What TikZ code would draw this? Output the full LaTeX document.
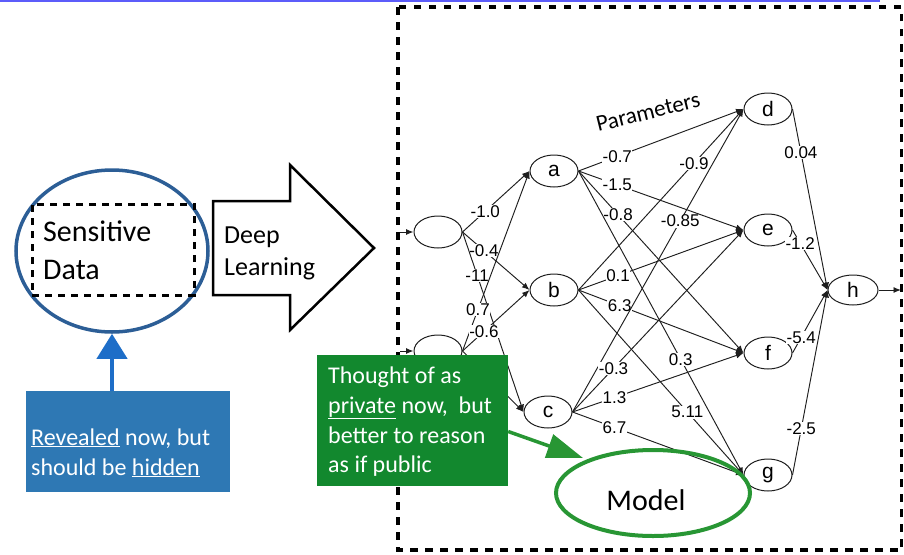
\documentclass[tikz,border=0pt]{standalone}
\usepackage{fontspec}
\setmainfont{Carlito}
\newfontfamily\netfont{Liberation Sans}
\usetikzlibrary{shapes.geometric,arrows.meta}

\definecolor{topline}{RGB}{92,92,250}
\definecolor{ringblue}{RGB}{44,94,150}
\definecolor{arrowblue}{RGB}{30,110,200}
\definecolor{boxblue}{RGB}{46,120,180}
\definecolor{boxgreen}{RGB}{18,136,46}
\definecolor{pengreen}{RGB}{40,150,52}
\definecolor{wire}{RGB}{30,30,30}

\newcommand{\fsz}[1]{\fontsize{#1}{#1}\selectfont}

\begin{document}
\begin{tikzpicture}[x=1pt,y=-1pt,
  neuron/.style={ellipse, draw=wire, line width=1pt, minimum width=48pt,
    minimum height=32pt, inner sep=0pt, font=\netfont\fsz{21}},
  edge/.style={draw=wire, line width=0.95pt, -{Latex[length=7.5pt,width=6pt]}},
  wt/.style={fill=white, inner sep=0.5pt, font=\netfont\fsz{17}},
  txt/.style={anchor=base west, inner sep=0pt},
  framedash/.style={line width=3.5pt, dash pattern=on 7.5pt off 7.5pt},
]
\useasboundingbox (0,0) rectangle (904,554);

% thin rule along the top edge
\draw[topline, line width=1.5pt] (0,0.75) -- (880,0.75);

% ---------------- network ----------------
\node[neuron] (i1) at (438,232) {};
\node[neuron] (i2) at (438,351) {};
\node[neuron] (a) at (554,171) {a};
\node[neuron] (b) at (554,290) {b};
\node[neuron] (c) at (548,412) {c};
\node[neuron] (d) at (768,109) {d};
\node[neuron] (e) at (768,230) {e};
\node[neuron] (f) at (768,353) {f};
\node[neuron] (g) at (768,475) {g};
\node[neuron, minimum width=50pt, minimum height=30pt] (h) at (853,290) {h};

\coordinate (x1) at (400,232);
\coordinate (x2) at (400,351);
\coordinate (y) at (901,290);

\draw[edge] (x1) -- (i1.west);
\draw[edge] (x2) -- (i2.west);

% input layer -> first hidden layer
\draw[edge] (i1.east) -- node[wt,pos=.34]{-1.0} (a.west);
\draw[edge] (i1.east) -- node[wt,pos=.32]{-0.4} (b.west);
\draw[edge] (i1.east) -- node[wt,pos=.24]{-11} (c.west);
\draw[edge] (i2.east) -- node[wt,pos=.23]{0.7} (a.west);
\draw[edge] (i2.east) -- node[wt,pos=.32]{-0.6} (b.west);
\draw[edge] (i2.east) -- (c.west);

% first hidden layer -> second hidden layer
\draw[edge] (a.east) -- node[wt,pos=.235]{-0.7} (d.west);
\draw[edge] (a.east) -- node[wt,pos=.235]{-1.5} (e.west);
\draw[edge] (a.east) -- node[wt,pos=.24]{-0.8} (f.west);
\draw[edge] (a.east) -- node[wt,pos=.62]{0.3} (g.west);
\draw[edge] (b.east) -- node[wt,pos=.70]{-0.9} (d.west);
\draw[edge] (b.east) -- node[wt,pos=.24]{0.1} (e.west);
\draw[edge] (b.east) -- node[wt,pos=.25]{6.3} (f.west);
\draw[edge] (b.east) -- node[wt,pos=.66]{5.11} (g.west);
\draw[edge] (c.east) -- node[wt,pos=.63]{-0.85} (d.west);
\draw[edge] (c.east) -- node[wt,pos=.24]{-0.3} (e.west);
\draw[edge] (c.east) -- node[wt,pos=.245]{1.3} (f.west);
\draw[edge] (c.east) -- node[wt,pos=.245]{6.7} (g.west);

% second hidden layer -> output
\draw[edge] (d.east) -- node[wt,pos=.24]{0.04} (h.west);
\draw[edge] (e.east) -- node[wt,pos=.22]{-1.2} (h.west);
\draw[edge] (f.east) -- node[wt,pos=.25]{-5.4} (h.west);
\draw[edge] (g.east) -- node[wt,pos=.25]{-2.5} (h.west);
\draw[edge] (h.east) -- (y);

\node[rotate=14, font=\fsz{23}, inner sep=0pt] (params) at (648,112) {Parameters};

% dashed frame around the model
\draw[framedash] (398,7) rectangle (901.5,550);

% ---------------- sensitive data ----------------
\node[ellipse, draw=ringblue, line width=3.5pt, minimum width=192pt,
      minimum height=162pt, inner sep=0pt] (ring) at (112,251) {};
\node[draw, line width=3pt, dash pattern=on 7pt off 6pt, minimum width=162pt,
      minimum height=91pt, inner sep=0pt] (sens) at (113,249.5) {};
\node[txt, font=\fsz{30}] (sens1) at (43,241) {Sensitive};
\node[txt, font=\fsz{30}] (sens2) at (43,279) {Data};

% block arrow
\draw[line width=2.5pt, line join=miter, fill=white]
  (213,201) -- (290,201) -- (290,165) -- (374,248) -- (290,330)
  -- (290,295) -- (213,295) -- cycle;
\node[txt, font=\fsz{26}] (deep1) at (224,243) {Deep};
\node[txt, font=\fsz{26}] (deep2) at (224,275) {Learning};

% blue note
\node[fill=boxblue, minimum width=204pt, minimum height=101pt, inner sep=0pt]
  (rev) at (128,441.5) {};
\node[txt, white, font=\fsz{24}] (rev1) at (31,445) {\underline{Revealed} now, but};
\node[txt, white, font=\fsz{24}] (rev2) at (31,475) {should be \underline{hidden}};
\draw[arrowblue, line width=4pt, -{Triangle[length=25pt,width=30pt]}]
  (ring.south |- rev.north) -- (ring.south);

% green note
\node[fill=boxgreen, minimum width=191pt, minimum height=131pt, inner sep=0pt]
  (gbox) at (412.5,420.5) {};
\node[txt, white, font=\fsz{24}] (g1) at (328,383) {Thought of as};
\node[txt, white, font=\fsz{24}] (g2) at (328,413) {\underline{private} now,\ \ but};
\node[txt, white, font=\fsz{24}] (g3) at (328,443) {better to reason};
\node[txt, white, font=\fsz{24}] (g4) at (328,472) {as if public};

% model ring
\node[ellipse, draw=pengreen, line width=4pt, minimum width=194pt,
      minimum height=86pt, inner sep=0pt] (model) at (653,493) {};
\node[font=\fsz{30}, inner sep=0pt] (modelT) at (646,500) {Model};
\coordinate (gtip) at (583,458);
\draw[pengreen, line width=3.5pt, -{Triangle[length=36pt,width=24pt]}]
  ([yshift=-11pt]gbox.east) -- (gtip);
\end{tikzpicture}
\end{document}
